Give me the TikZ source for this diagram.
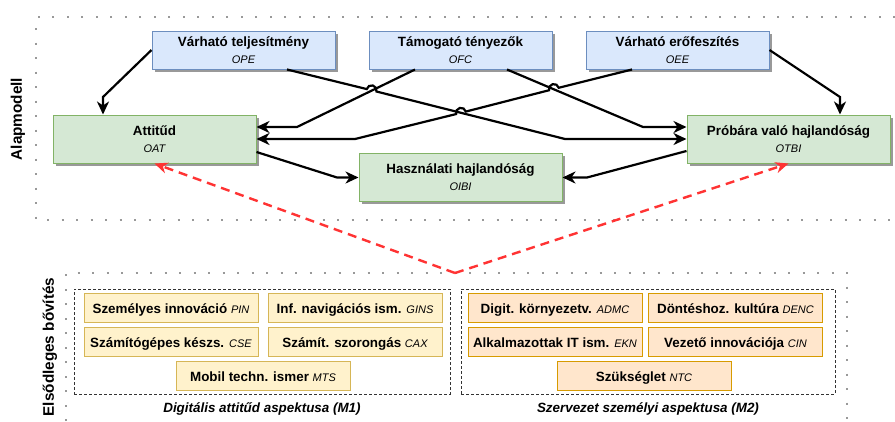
\documentclass[tikz,border=0pt]{standalone}
\usepackage{fontspec}
\setmainfont{Liberation Sans}
\usetikzlibrary{arrows.meta,calc,shadows}
\definecolor{blueF}{HTML}{DAE8FC}
\definecolor{blueD}{HTML}{6C8EBF}
\definecolor{greenF}{HTML}{D5E8D4}
\definecolor{greenD}{HTML}{82B366}
\definecolor{yellowF}{HTML}{FFF2CC}
\definecolor{yellowD}{HTML}{D6B656}
\definecolor{orangeF}{HTML}{FFE6CC}
\definecolor{orangeD}{HTML}{D79B00}
\definecolor{redA}{HTML}{FF3333}
\definecolor{frameC}{HTML}{999999}
\newcommand{\toptext}[2]{\rule{0pt}{13pt}#1\\\rule[-4pt]{0pt}{4pt}{\fontsize{11}{17}\selectfont\mdseries\itshape #2}}
\newcommand{\itm}[2]{#1 {\fontsize{11}{13}\selectfont\mdseries\itshape #2}}
\begin{document}
\begin{tikzpicture}[x=1pt,y=1pt,
  frame/.style={draw=frameC, line width=2pt, dash pattern=on 2pt off 12.5pt},
  grp/.style={draw=black!80, line width=0.9pt, dash pattern=on 3pt off 2pt, rectangle, inner sep=0pt},
  shd/.style={drop shadow={shadow xshift=2.5pt,shadow yshift=-2.5pt,opacity=0.4,fill=black}},
  tbox/.style={rectangle, line width=1pt, inner sep=0pt, align=center, fill=blueF, draw=blueD,
    minimum width=183pt, minimum height=38pt, shd, font=\fontsize{13.4}{17}\selectfont\bfseries},
  gbox/.style={rectangle, line width=1pt, inner sep=0pt, align=center, fill=greenF, draw=greenD,
    minimum width=203pt, minimum height=48pt, shd, font=\fontsize{13.4}{17}\selectfont\bfseries},
  ybox/.style={rectangle, line width=1pt, inner sep=0pt, fill=yellowF, draw=yellowD,
    minimum width=174pt, minimum height=29pt, text height=13pt, text depth=2pt,
    font=\fontsize{13.4}{16}\selectfont\bfseries},
  obox/.style={ybox, fill=orangeF, draw=orangeD},
  capt/.style={font=\fontsize{13.4}{16}\selectfont\bfseries\itshape, inner sep=0pt},
  side/.style={rotate=90, font=\fontsize{15.3}{18}\selectfont\bfseries, inner sep=0pt},
  arr/.style={line width=2.2pt, -{Stealth[length=13pt,width=12pt,inset=4pt]}},
  redarr/.style={draw=redA, line width=2.4pt, dash pattern=on 9pt off 6pt,
    -{Stealth[length=13pt,width=11pt,inset=4pt]}}
]
\useasboundingbox (0,0) rectangle (895,-421);

% frames
\draw[frame] (895,-17) -- (36,-17) -- (36,-220) -- (895,-220);
\draw[frame] (66,-421) -- (66,-273) -- (847,-273) -- (847,-421);

\node[side] (lab1) at (18,-119) {Alapmodell};
\node[side] (lab2) at (50,-347) {Elsődleges bővítés};

% top boxes
\node[tbox] (OPE) at (243.5,-50) {\toptext{Várható teljesítmény}{OPE}};
\node[tbox] (OFC) at (460.5,-50) {\toptext{Támogató tényezők}{OFC}};
\node[tbox] (OEE) at (677.5,-50) {\toptext{Várható erőfeszítés}{OEE}};
\node[gbox] (OAT) at (154.5,-139) {\toptext{Attitűd}{OAT}};
\node[gbox] (OIBI) at (460.5,-177.5) {\toptext{Használati hajlandóság}{OIBI}};
\node[gbox] (OTBI) at (788.5,-139) {\toptext{Próbára való hajlandóság}{OTBI}};

% groups
\node[grp, minimum width=376pt, minimum height=105pt] (M1) at (262,-341.5) {};
\node[grp, minimum width=374pt, minimum height=105pt] (M2) at (648,-341.5) {};
\node[capt] (M1c) at (262,-409) {Digitális attitűd aspektusa (M1)};
\node[capt] (M2c) at (648,-409) {Szervezet személyi aspektusa (M2)};

\node[ybox] (PIN) at (171,-307.5) {\itm{Személyes innováció}{PIN}};
\node[ybox] (GINS) at (355,-307.5) {\itm{Inf. navigációs ism.}{GINS}};
\node[ybox] (CSE) at (171,-341.5) {\itm{Számítógépes készs.}{CSE}};
\node[ybox] (CAX) at (355,-341.5) {\itm{Számít. szorongás}{CAX}};
\node[ybox] (MTS) at (263,-375.5) {\itm{Mobil techn. ismer}{MTS}};

\node[obox] (ADMC) at (555,-307.5) {\itm{Digit. környezetv.}{ADMC}};
\node[obox] (DENC) at (735.5,-307.5) {\itm{Döntéshoz. kultúra}{DENC}};
\node[obox] (EKN) at (555,-341.5) {\itm{Alkalmazottak IT ism.}{EKN}};
\node[obox] (CIN) at (735.5,-341.5) {\itm{Vezető innovációja}{CIN}};
\node[obox] (NTC) at (644,-375.5) {\itm{Szükséglet}{NTC}};

% connectors
\coordinate (b1) at (103,-97);
\draw[arr] (OPE.west) -- (b1) -- (b1 |- OAT.north);
\draw[arr] ($(OPE.south)+(43.5,0)$) -- (366.75,-89.08)
   arc[start angle=165.87, end angle=-14.13, radius=5pt] -- (565,-139) -- (OTBI.west);
\draw[arr] ($(OFC.south)+(-45.5,0)$) -- (297,-127) -- ($(OAT.east)+(0,12)$);
\draw[arr] ($(OFC.south)+(46.5,0)$) -- (643,-127) -- ($(OTBI.west)+(0,12)$);
\draw[arr] ($(OEE.south)+(-45.5,0)$) -- (558.74,-87.76)
   arc[start angle=14.38, end angle=194.38, radius=5pt] -- (465.84,-111.56)
   arc[start angle=14.38, end angle=194.38, radius=5pt] -- (355,-139) -- (OAT.east);
\coordinate (b6) at (840,-97);
\draw[arr] (OEE.east) -- (b6) -- (b6 |- OTBI.north);
\draw[arr] ($(OAT.east)+(0,-13)$) -- (337,-177.5) -- (OIBI.west);
\draw[arr] ($(OTBI.west)+(0,-12)$) -- (587,-177.5) -- (OIBI.east);

\coordinate (apex) at (455,-273);
\draw[redarr] (apex) -- (OAT.south);
\draw[redarr] (apex) -- (OTBI.south);
\end{tikzpicture}
\end{document}
